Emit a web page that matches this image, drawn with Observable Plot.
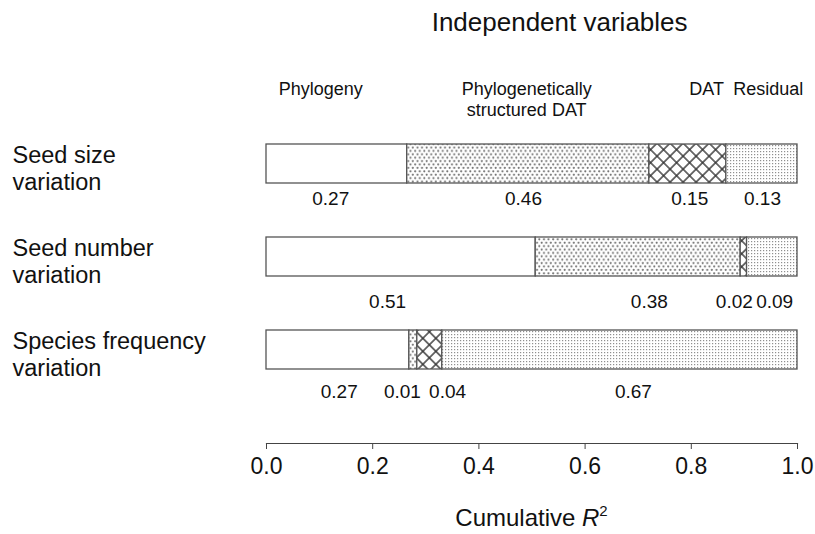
<!DOCTYPE html>
<html><head><meta charset="utf-8">
<script src="https://cdn.jsdelivr.net/npm/d3@7"></script>
<script src="https://cdn.jsdelivr.net/npm/@observablehq/plot@0.6"></script>
<style>body{margin:0;background:#fff} svg{display:block}</style>
</head><body><div id="chart"></div>
<script>
// ---- data ----
const rows = ["Seed size variation", "Seed number variation", "Species frequency variation"];
const rowLabels = ["Seed size\nvariation", "Seed number\nvariation", "Species frequency\nvariation"];
const components = ["Phylogeny", "Phylogenetically structured DAT", "DAT", "Residual"];
const componentLabels = ["Phylogeny", "Phylogenetically\nstructured DAT", "DAT", "Residual"];
const seedSize = [0.265, 0.456, 0.145, 0.134];
const seedNumber = [0.507, 0.386, 0.012, 0.095];
const speciesFrequency = [0.269, 0.015, 0.047, 0.669];
const seedSizeText = ["0.27", "0.46", "0.15", "0.13"];
const seedNumberText = ["0.51", "0.38", "0.02", "0.09"];
const speciesFrequencyText = ["0.27", "0.01", "0.04", "0.67"];
// where each value label is anchored (in R² units), as placed in the original
const seedSizeTextAt = [0.121, 0.484, 0.797, 0.934];
const seedNumberTextAt = [0.228, 0.721, 0.881, 0.957];
const speciesFrequencyTextAt = [0.137, 0.256, 0.341, 0.691];
const componentTextAt = [0.102, 0.49, 0.829, 0.945];
const xTicks = [0, 0.2, 0.4, 0.6, 0.8, 1.0];

// ---- table built from the arrays ----
const values = [seedSize, seedNumber, speciesFrequency];
const texts = [seedSizeText, seedNumberText, speciesFrequencyText];
const textAt = [seedSizeTextAt, seedNumberTextAt, speciesFrequencyTextAt];
const table = [];
rows.forEach((r, i) => components.forEach((c, j) =>
  table.push({row: r, comp: c, value: values[i][j], text: texts[i][j], at: textAt[i][j]})));
const headers = components.map((c, j) => ({comp: c, text: componentLabels[j], at: componentTextAt[j]}));

const fills = {
  "Phylogeny": "#ffffff",
  "Phylogenetically structured DAT": "url(#pCoarse)",
  "DAT": "url(#pHatch)",
  "Residual": "url(#pFine)"
};
const FONT = "'Liberation Sans', Arial, Helvetica, sans-serif";

function patterns() {
  const defs = d3.create("svg:defs");
  const c = defs.append("pattern").attr("id", "pCoarse").attr("patternUnits", "userSpaceOnUse")
    .attr("width", 4.6).attr("height", 6.8);
  c.append("rect").attr("width", 4.6).attr("height", 6.8).attr("fill", "#fff");
  c.append("circle").attr("cx", 1.15).attr("cy", 1.3).attr("r", 1.05).attr("fill", "#6e6e6e");
  c.append("circle").attr("cx", 3.45).attr("cy", 4.7).attr("r", 1.05).attr("fill", "#6e6e6e");
  const h = defs.append("pattern").attr("id", "pHatch").attr("patternUnits", "userSpaceOnUse")
    .attr("width", 9.2).attr("height", 9.2).attr("patternTransform", "rotate(45)");
  h.append("rect").attr("width", 9.2).attr("height", 9.2).attr("fill", "#fff");
  h.append("path").attr("d", "M0,4.6H9.2M4.6,0V9.2").attr("stroke", "#333").attr("stroke-width", 1.4);
  const f = defs.append("pattern").attr("id", "pFine").attr("patternUnits", "userSpaceOnUse")
    .attr("width", 3).attr("height", 3);
  f.append("rect").attr("width", 3).attr("height", 3).attr("fill", "#fff");
  f.append("rect").attr("x", 1).attr("y", 1).attr("width", 1.2).attr("height", 1.2).attr("fill", "#8f8f8f");
  return defs.node();
}

function axisTitle(index, scales, values, dims) {
  const t = d3.create("svg:text")
    .attr("x", (dims.marginLeft + dims.width - dims.marginRight) / 2)
    .attr("y", 526)
    .attr("text-anchor", "middle")
    .attr("font-family", FONT).attr("font-size", 24).attr("fill", "#111");
  t.append("tspan").text("Cumulative ");
  t.append("tspan").attr("font-style", "italic").text("R");
  t.append("tspan").attr("font-size", 15).attr("dy", -10).text("2");
  return t.node();
}

const rowDy = [35, 45, 42];

const chart = Plot.plot({
  width: 815,
  height: 534,
  marginLeft: 266,
  marginRight: 18,
  marginTop: 0,
  marginBottom: 91,
  style: {fontFamily: FONT, background: "#fff", color: "#111"},
  x: {domain: [0, 1]},
  y: {domain: rows, range: [143, 369], paddingInner: 0.583, paddingOuter: 0, axis: null},
  color: {type: "identity"},
  marks: [
    patterns,
    Plot.barX(table, Plot.stackX({
      x: "value", y: "row", order: null,
      fill: d => fills[d.comp], stroke: "#555", strokeWidth: 1.3, inset: 0
    })),
    Plot.frame({anchor: "bottom", stroke: "#444", strokeWidth: 1.2}),
    Plot.axisX({anchor: "bottom", ticks: xTicks, tickFormat: d3.format(".1f"), tickSize: 6,
      tickPadding: 8, fontSize: 23, label: null, stroke: "#444"}),
    axisTitle,
    Plot.text(["Independent variables"], {x: 0.552, frameAnchor: "top", dy: 12, lineAnchor: "top",
      text: d => d, fontSize: 26, fill: "#111"}),
    Plot.text(headers, {x: "at", text: "text", frameAnchor: "top", dy: 79, lineAnchor: "top",
      fontSize: 18, lineHeight: 1.2, fill: "#111"}),
    Plot.text(rows, {y: d => d, text: (d, i) => rowLabels[i], frameAnchor: "left", dx: -254,
      dy: 4, textAnchor: "start", fontSize: 23.5, lineHeight: 1.15, fill: "#111"}),
    ...rows.map((r, i) => Plot.text(table.filter(d => d.row === r),
      {x: "at", y: "row", text: "text", dy: rowDy[i], fontSize: 19, fill: "#111"}))
  ]
});
document.getElementById("chart").append(chart);
</script>
</body></html>
